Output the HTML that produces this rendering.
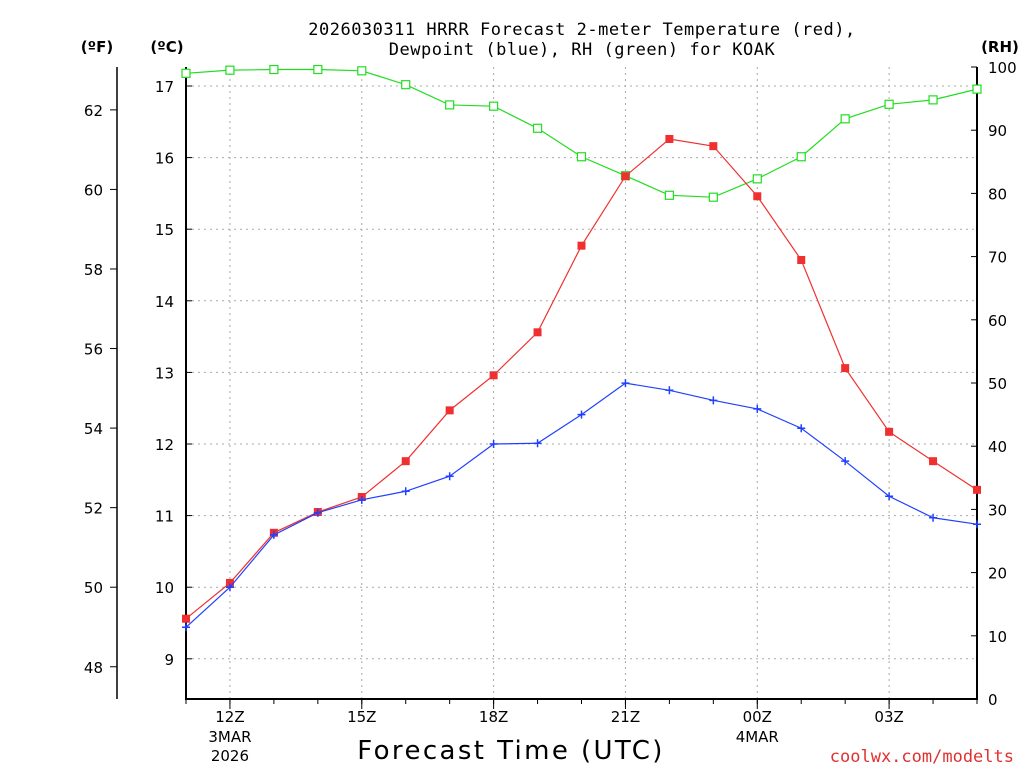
<!DOCTYPE html>
<html><head><meta charset="utf-8"><style>
body{margin:0;background:#fff;}
</style></head><body>
<svg id="chart" width="1024" height="768" viewBox="0 0 1024 768" xmlns="http://www.w3.org/2000/svg" font-family="DejaVu Sans, Liberation Sans, sans-serif">
<text x="582" y="35" text-anchor="middle" font-size="17" style="font-family:'DejaVu Sans Mono','Liberation Mono',monospace;letter-spacing:0.5px">2026030311 HRRR Forecast 2-meter Temperature (red),</text>
<text x="582" y="55" text-anchor="middle" font-size="17" style="font-family:'DejaVu Sans Mono','Liberation Mono',monospace;letter-spacing:0.5px">Dewpoint (blue), RH (green) for KOAK</text>
<text x="97" y="52" text-anchor="middle" font-size="15" font-weight="bold">(ºF)</text>
<text x="167" y="52" text-anchor="middle" font-size="15" font-weight="bold">(ºC)</text>
<text x="1000" y="52" text-anchor="middle" font-size="15" font-weight="bold">(RH)</text>
<text x="511" y="759" text-anchor="middle" font-size="26" style="letter-spacing:2.4px">Forecast Time (UTC)</text>
<text x="1014" y="762" text-anchor="end" font-size="17" fill="#e03030" style="font-family:'DejaVu Sans Mono','Liberation Mono',monospace">coolwx.com/modelts</text>
<g id="grid"></g><g id="axes"></g><g id="series"></g>
</svg>
<script>
const hours=[11,12,13,14,15,16,17,18,19,20,21,22,23,24,25,26,27,28,29];
const tempC=[9.56,10.06,10.76,11.05,11.26,11.76,12.47,12.96,13.56,14.77,15.74,16.26,16.16,15.46,14.57,13.06,12.17,11.76,11.36];
const dewC=[9.44,10.0,10.73,11.04,11.22,11.34,11.55,12.0,12.01,12.41,12.85,12.75,12.61,12.49,12.22,11.76,11.27,10.97,10.88];
const rh=[99.0,99.5,99.6,99.6,99.4,97.2,94.0,93.8,90.3,85.8,82.8,79.7,79.4,82.3,85.8,91.8,94.1,94.8,96.5];
const cTicks=[9,10,11,12,13,14,15,16,17];
const fTicks=[48,50,52,54,56,58,60,62];
const rhTicks=[0,10,20,30,40,50,60,70,80,90,100];
const xTickHours=[12,15,18,21,24,27];
const xTickLabels=["12Z","15Z","18Z","21Z","00Z","03Z"];
const xSubLabels={12:["3MAR","2026"],24:["4MAR"]};

const L=186,R=977,T=67,B=699;
const xs=h=>L+(h-11)*(R-L)/18;
const yC=c=>86+(17-c)*71.6;
const yF=f=>yC((f-32)*5/9);
const yRH=r=>B-r*(B-T)/100;
const NS="http://www.w3.org/2000/svg";
function mk(tag,attrs,parent,txt){const e=document.createElementNS(NS,tag);for(const k in attrs)e.setAttribute(k,attrs[k]);if(txt!==undefined)e.textContent=txt;document.getElementById(parent).appendChild(e);return e;}

cTicks.forEach(c=>{const y=yC(c);
 const g=mk('line',{x1:L,x2:R,y1:y,y2:y,stroke:'#aaa','stroke-dasharray':'2,4'},'grid');
 
 const t=mk('text',{x:L-12,y:y+6,'text-anchor':'end','font-size':'15'},'axes',String(c));
 
 mk('line',{x1:L,x2:L+6,y1:y,y2:y,stroke:'#000'},'axes');});
xTickHours.forEach((h,i)=>{const x=xs(h);
 const g=mk('line',{x1:x,x2:x,y1:T,y2:B,stroke:'#aaa','stroke-dasharray':'2,4'},'grid');
 
 const t=mk('text',{x:x,y:B+23,'text-anchor':'middle','font-size':'15'},'axes',xTickLabels[i]);
 
 (xSubLabels[h]||[]).forEach((s,j)=>{const st=mk('text',{x:x,y:B+43+j*19,'text-anchor':'middle','font-size':'15'},'axes',s);
  });
 mk('line',{x1:x,x2:x,y1:B,y2:B+10,stroke:'#000'},'axes');});
hours.forEach(h=>mk('line',{x1:xs(h),x2:xs(h),y1:B,y2:B+5,stroke:'#000'},'axes'));
fTicks.forEach(f=>{const y=yF(f);
 const t=mk('text',{x:103,y:y+6,'text-anchor':'end','font-size':'15'},'axes',String(f));
 
 mk('line',{x1:110,x2:117,y1:y,y2:y,stroke:'#000'},'axes');});
rhTicks.forEach(r=>{const y=yRH(r);
 const t=mk('text',{x:988,y:y+6,'text-anchor':'start','font-size':'15'},'axes',String(r));
 
 mk('line',{x1:R-6,x2:R,y1:y,y2:y,stroke:'#000'},'axes');});
const a1=mk('line',{x1:117,x2:117,y1:T,y2:B,stroke:'#000','stroke-width':1.5},'axes');

const a2=mk('path',{d:`M${L},${T}V${B}H${R}V${T}`,fill:'none',stroke:'#000','stroke-width':2},'axes');


function series(vals,yfn,color,marker,name){
 const pts=vals.map((v,i)=>[xs(hours[i]),yfn(v)]);
 const l=mk('polyline',{points:pts.map(p=>p.join(',')).join(' '),fill:'none',stroke:color,'stroke-width':1.2},'series');
 
 pts.forEach(([x,y])=>{let m;
  if(marker==='fill')m=mk('rect',{x:x-4,y:y-4,width:8,height:8,fill:color},'series');
  else if(marker==='open')m=mk('rect',{x:x-4,y:y-4,width:8,height:8,fill:'#fff',stroke:color,'stroke-width':1.2},'series');
  else m=mk('path',{d:`M${x-4},${y}H${x+4}M${x},${y-4}V${y+4}`,stroke:color,'stroke-width':1.5},'series');
  });
}
series(rh,yRH,'#22dd22','open','rh');
series(tempC,yC,'#f03030','fill','temperature');
series(dewC,yC,'#2040ff','plus','dewpoint');
</script>
</body></html>
